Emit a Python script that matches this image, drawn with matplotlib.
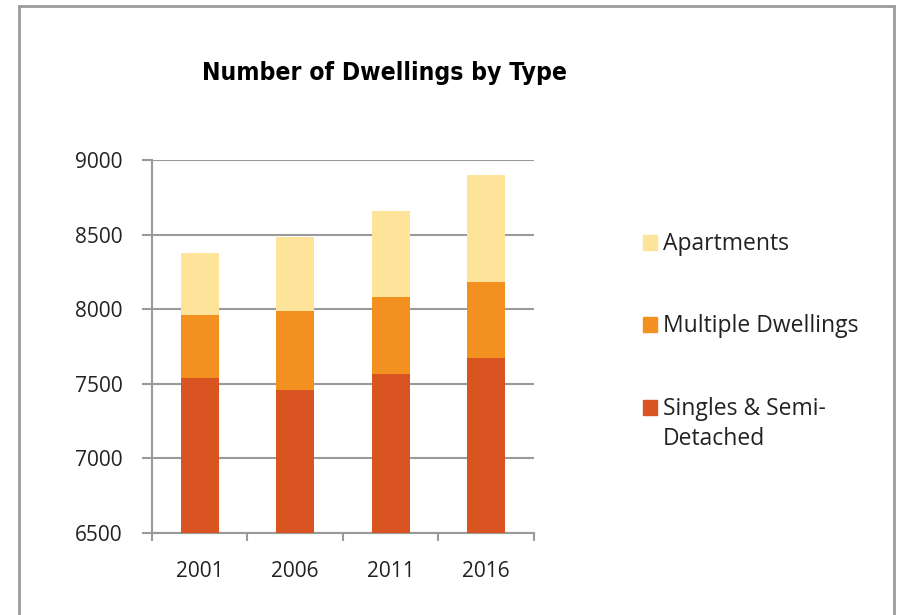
import matplotlib
matplotlib.use('Agg')
import matplotlib.pyplot as plt
from matplotlib.patches import Rectangle
from matplotlib import font_manager
import numpy as np

years = ['2001', '2006', '2011', '2016']
singles = [7540, 7460, 7565, 7670]
multiple = [420, 525, 520, 510]
apartments = [420, 500, 570, 720]

series_labels = ['Apartments', 'Multiple Dwellings', 'Singles & Semi-\nDetached']
series_colors = ['#FEE39B', '#F29120', '#D95420']

plt.rcParams['font.family'] = ['Open Sans', 'DejaVu Sans']

fig = plt.figure(figsize=(8.99, 6.15), dpi=100)
ax = fig.add_axes([0.169, 0.1333, 0.425, 0.6065])

x = np.arange(len(years))
ancho = 0.4
base = np.zeros(len(years))
for valores, color in zip([singles, multiple, apartments], series_colors[::-1]):
    ax.bar(x, valores, width=ancho, bottom=base, color=color, zorder=3, linewidth=0)
    base = base + np.array(valores)

ax.set_ylim(6500, 9000)
ax.set_xlim(-0.5, 3.5)
ax.set_yticks(np.arange(6500, 9001, 500))
ax.set_xticks(x)
ax.set_xticklabels(years)
ax.set_xticks(np.arange(-0.5, 3.6, 1), minor=True)
ax.tick_params(axis='x', which='major', length=0, pad=20, labelsize=15, colors='#222222')
ax.tick_params(axis='x', which='minor', length=6, width=1.5, color='#9a9a9a')
ax.tick_params(axis='y', length=7, width=1.5, color='#9a9a9a', pad=14, labelsize=15, labelcolor='#222222')
ax.yaxis.grid(True, color='#9a9a9a', linewidth=1.5, zorder=0)
for lado in ['top', 'right']:
    ax.spines[lado].set_visible(False)
for lado in ['left', 'bottom']:
    ax.spines[lado].set_color('#9a9a9a')
    ax.spines[lado].set_linewidth(1.5)

# titulo: fuente estrecha si existe
ruta = font_manager.findfont(font_manager.FontProperties(family='DejaVu Sans', weight='bold', stretch='condensed'))
if 'Condensed' in ruta:
    fig.text(385 / 899, 1 - 80 / 615, 'Number of Dwellings by Type', ha='center', va='baseline',
             fontsize=17.7, fontweight='bold', family='DejaVu Sans', fontstretch='condensed')
else:
    fig.text(385 / 899, 1 - 80 / 615, 'Number of Dwellings by Type', ha='center', va='baseline',
             fontsize=16, fontweight='bold', family='DejaVu Sans')

# leyenda manual
W, H = 899, 615
leyenda_base = [250, 332, 415]
for etiqueta, color, yy in zip(series_labels, series_colors, leyenda_base):
    fig.patches.append(Rectangle((643 / W, 1 - (yy - 0.5) / H), 14 / W, 14.5 / H,
                                 transform=fig.transFigure, color=color, figure=fig))
    for i, linea in enumerate(etiqueta.split('\n')):
        fig.text(663 / W, 1 - (yy + 30 * i) / H, linea, ha='left', va='baseline', fontsize=16.5,
                 color='#222222')

# marco exterior
fig.patches.append(Rectangle((19 / W, -0.05), 875 / W, 1 - 6 / H + 0.05, transform=fig.transFigure,
                             fill=False, edgecolor='#9a9a9a', linewidth=2, figure=fig))

fig.savefig('out.png', dpi=100)
